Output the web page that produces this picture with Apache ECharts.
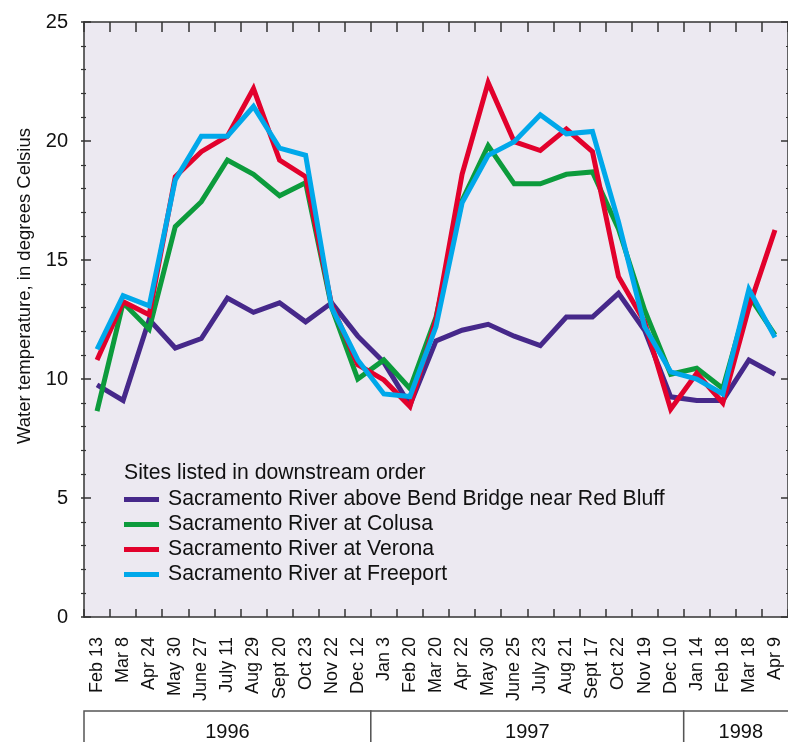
<!DOCTYPE html>
<html>
<head>
<meta charset="utf-8">
<script src="https://cdn.jsdelivr.net/npm/echarts@6/dist/echarts.min.js"></script>
<style>
html,body{margin:0;padding:0;background:#fff;}
#chart{width:788px;height:742px;}
</style>
</head>
<body>
<div id="chart"></div>
<script>
const categories = ['Feb 13','Mar 8','Apr 24','May 30','June 27','July 11','Aug 29','Sept 20','Oct 23','Nov 22','Dec 12','Jan 3','Feb 20','Mar 20','Apr 22','May 30','June 25','July 23','Aug 21','Sept 17','Oct 22','Nov 19','Dec 10','Jan 14','Feb 18','Mar 18','Apr 9'];
const years = ['1996','1997','1998'];
const yearCounts = [11, 12, 4];
const seriesNames = ['Sacramento River above Bend Bridge near Red Bluff','Sacramento River at Colusa','Sacramento River at Verona','Sacramento River at Freeport'];
const bendBridge = [9.75, 9.1, 12.5, 11.3, 11.7, 13.4, 12.8, 13.2, 12.4, 13.2, 11.8, 10.7, 8.9, 11.6, 12.05, 12.3, 11.8, 11.4, 12.6, 12.6, 13.6, 12.05, 9.25, 9.1, 9.1, 10.8, 10.2];
const colusa = [8.65, 13.2, 12.1, 16.4, 17.45, 19.2, 18.6, 17.7, 18.25, 13.0, 10.0, 10.8, 9.6, 12.6, 17.5, 19.8, 18.2, 18.2, 18.6, 18.7, 16.3, 12.9, 10.2, 10.45, 9.6, 13.5, 11.85];
const verona = [10.8, 13.25, 12.7, 18.5, 19.55, 20.2, 22.2, 19.2, 18.5, 13.1, 10.6, 9.96, 8.85, 12.5, 18.6, 22.45, 19.97, 19.6, 20.5, 19.55, 14.3, 12.4, 8.73, 10.24, 9.0, 13.0, 16.26];
const freeport = [11.25, 13.5, 13.07, 18.36, 20.2, 20.2, 21.45, 19.7, 19.4, 13.0, 10.8, 9.37, 9.26, 12.2, 17.4, 19.4, 19.97, 21.1, 20.3, 20.4, 16.6, 12.2, 10.3, 10.0, 9.37, 13.77, 11.75];
const colors = ['#46288a', '#0c9b3c', '#e2012c', '#00a8ea'];

const FONT = '"Liberation Sans", Arial, Helvetica, sans-serif';
const GRID_W = 707, GRID_H = 595;
const chart = echarts.init(document.getElementById('chart'), null, {renderer: 'canvas'});

const axisLine = {show: true, onZero: false, lineStyle: {color: '#333', width: 1.5}};
const noLine = {show: false, onZero: false};
const tick = (len) => ({show: true, interval: 0, length: len, lineStyle: {color: '#333', width: 1.5}});
const minor = {show: true, splitNumber: 5, length: 5, lineStyle: {color: '#333', width: 1.2}};
const mk = (name, data, i) => ({
  name: name, type: 'line', data: data, symbol: 'none', z: 2 + i,
  lineStyle: {width: 5, color: colors[i], join: 'miter'},
  itemStyle: {color: colors[i]}, emphasis: {disabled: true}
});
// helper axes placed on the opposite side via negative offset, so their
// outward ticks point into the plot area
const xTickAxis = (pos, len) => ({
  type: 'category', data: categories, position: pos, offset: -GRID_H, boundaryGap: true,
  axisLine: noLine, axisTick: tick(len), axisLabel: {show: false, interval: 0}, splitLine: {show: false}, z: 5
});
const yTickAxis = (pos) => ({
  type: 'value', min: 0, max: 25, interval: 5, position: pos, offset: -GRID_W,
  axisLine: noLine, axisTick: tick(10), minorTick: minor,
  axisLabel: {show: false}, splitLine: {show: false}, z: 5
});

chart.setOption({
  animation: false,
  textStyle: {fontFamily: FONT},
  title: {
    text: 'Sites listed in downstream order', left: 124, top: 463, padding: 0,
    textStyle: {fontFamily: FONT, fontSize: 21.2, fontWeight: 'normal', color: '#111'}
  },
  legend: {
    orient: 'vertical', left: 124, top: 489, padding: 0, itemGap: 4,
    icon: 'rect', itemWidth: 35, itemHeight: 5,
    textStyle: {fontFamily: FONT, fontSize: 21.2, color: '#111', padding: [0, 0, 0, 4]},
    data: seriesNames
  },
  grid: {left: 84, top: 22, width: GRID_W, height: GRID_H, show: true, backgroundColor: '#ece9f1', borderWidth: 0},
  xAxis: [{
    type: 'category', data: categories, position: 'bottom', boundaryGap: true,
    axisLine: axisLine, axisTick: {show: false},
    axisLabel: {rotate: 90, margin: 20, fontSize: 18, color: '#111', fontFamily: FONT, interval: 0},
    splitLine: {show: false}
  }, {
    type: 'category', data: categories, position: 'top', boundaryGap: true,
    axisLine: axisLine, axisTick: {show: false},
    axisLabel: {show: false}, splitLine: {show: false}
  },
    xTickAxis('top', 8),      // sits on bottom edge, ticks point up
    xTickAxis('bottom', 10)   // sits on top edge, ticks point down
  ],
  yAxis: [{
    type: 'value', min: 0, max: 25, interval: 5, position: 'left',
    name: 'Water temperature, in degrees Celsius', nameLocation: 'middle', nameGap: 48, nameRotate: 90,
    nameTextStyle: {fontFamily: FONT, fontSize: 18.5, color: '#111', padding: [0, 0, 0, 67]},
    axisLine: axisLine, axisTick: {show: false},
    axisLabel: {fontSize: 20, color: '#111', margin: 16, fontFamily: FONT},
    splitLine: {show: false}
  }, {
    type: 'value', min: 0, max: 25, interval: 5, position: 'right',
    axisLine: axisLine, axisTick: {show: false},
    axisLabel: {show: false}, splitLine: {show: false}
  },
    yTickAxis('right'),   // sits on left edge, ticks point right
    yTickAxis('left')     // sits on right edge, ticks point left
  ],
  series: [
    mk(seriesNames[0], bendBridge, 0),
    mk(seriesNames[1], colusa, 1),
    mk(seriesNames[2], verona, 2),
    mk(seriesNames[3], freeport, 3)
  ]
});

// Year band below the axis, positioned from the category scale
const c0 = chart.convertToPixel({xAxisIndex: 0}, 0);
const c1 = chart.convertToPixel({xAxisIndex: 0}, 1);
const step = c1 - c0;
const bandTop = 711, bandH = 42;
const elems = [];
let start = 0;
years.forEach((yr, k) => {
  const x0 = c0 - step / 2 + start * step;
  let x1 = c0 - step / 2 + (start + yearCounts[k]) * step;
  if (k === years.length - 1) x1 += 10;
  elems.push({
    type: 'rect', shape: {x: x0, y: bandTop, width: x1 - x0, height: bandH},
    style: {fill: '#fff', stroke: '#555', lineWidth: 1.5}, silent: true
  });
  elems.push({
    type: 'text', x: (x0 + x1) / 2, y: bandTop + 21,
    style: {text: yr, fontSize: 20, fontFamily: FONT, fill: '#111', align: 'center', verticalAlign: 'middle'},
    silent: true
  });
  start += yearCounts[k];
});
chart.setOption({graphic: elems});
</script>
</body>
</html>
